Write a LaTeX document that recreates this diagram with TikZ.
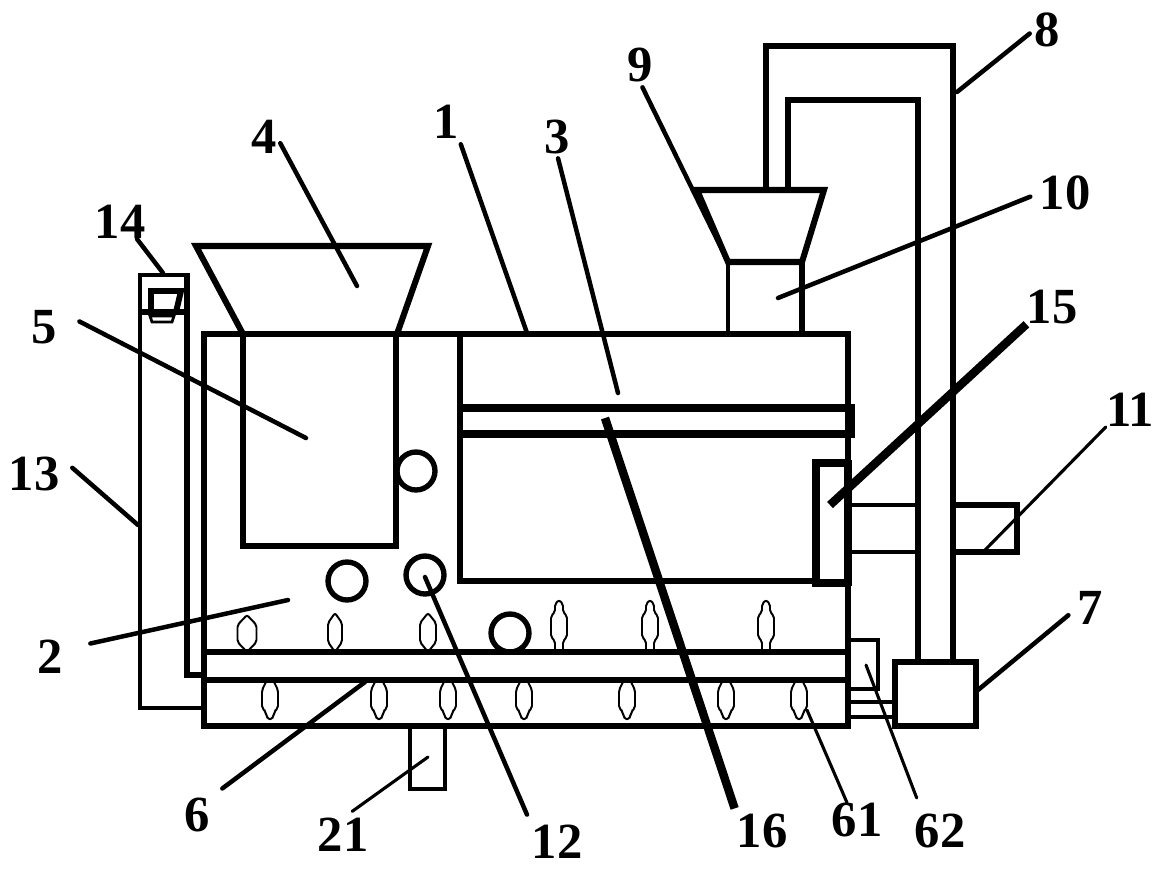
\documentclass[tikz,border=0pt]{standalone}
\usepackage{fontspec}
\setmainfont{Liberation Serif}
\tikzset{
  wall/.style={line width=4.3pt},
  thinwall/.style={line width=3.3pt},
  leader/.style={line width=3.2pt, line cap=round},
  heavyleader/.style={line width=6pt},
  fineleader/.style={line width=2.2pt, line cap=round},
  nozzle/.style={line width=1.4pt, rounded corners=1.5pt},
  roller/.style={circle, draw, line width=3.8pt, minimum size=27pt, inner sep=0pt},
  partno/.style={font=\bfseries\fontsize{36}{36}\selectfont, inner sep=0pt}
}
\begin{document}
\begin{tikzpicture}[x=0.025cm, y=-0.025cm]
  \useasboundingbox (0,0) rectangle (1162,870);
  % housing
  \draw[wall] (204,334) rectangle (848,726);
  \draw[wall] (204,652) -- (848,652);
  \draw[wall] (204,680) -- (848,680);
  \draw[line width=6pt] (848,460) -- (848,586);
  % feed hopper and bin
  \draw[wall] (243,334) -- (196,246) -- (428,246) -- (397,334);
  \draw[wall] (243,334) -- (243,546) -- (396,546) -- (396,334);
  % inner chamber
  \draw[wall] (460,334) -- (460,581) -- (816,581);
  \draw[line width=6.2pt] (460,408) -- (851,408) -- (851,434) -- (460,434);
  \draw[line width=6pt] (848,463) -- (816,463) -- (816,583) -- (848,583);
  % return tube
  \draw[thinwall] (204,708) -- (140,708) -- (140,275) -- (187,275);
  \draw[line width=4.8pt] (187,273) -- (187,675) -- (204,675);
  \draw[line width=4.8pt] (140,312) -- (187,312);
  % valve on the tube
  \draw[line width=4.2pt] (151,312) -- (151,291) -- (181,291) -- (176,312);
  \draw[line width=2pt] (150,316) -- (174,316) -- (172,322) -- (152,322) -- cycle;
  % upper inlet
  \draw[wall] (697,190) -- (824,190) -- (802,262) -- (728,262) -- cycle;
  \draw[thinwall] (728,262) -- (728,334);
  \draw[wall] (802,262) -- (802,334);
  \draw[wall] (766,190) -- (766,46) -- (953,46) -- (953,662);
  \draw[wall] (788,190) -- (788,100) -- (918,100) -- (918,662);
  % side outlet
  \draw[thinwall] (848,505) -- (918,505);
  \draw[thinwall] (848,552) -- (918,552);
  \draw[wall] (953,505) -- (1017,505) -- (1017,552) -- (953,552);
  % drive box and its parts
  \draw[wall] (895,662) rectangle (976,726);
  \draw[thinwall] (848,640) -- (878,640) -- (878,689) -- (848,689);
  \draw[thinwall] (848,702) -- (895,702);
  \draw[thinwall] (848,717) -- (895,717);
  % bottom outlet
  \draw[thinwall] (410,726) -- (410,789) -- (445,789) -- (445,726);
  % rollers
  \node[roller] (rollA) at (416,471) {};
  \node[roller] (rollB) at (347,581) {};
  \node[roller] (rollC) at (425,575) {};
  \node[roller] (rollD) at (510,633) {};
  % nozzles, upper and lower row
  \foreach \x/\t/\w in {247/615/19, 335/613/14, 428/613/16}
    \draw[nozzle] (\x,\t) -- (\x+\w/2,\t+10) -- (\x+\w/2,642) -- (\x,652) -- (\x-\w/2,642) -- (\x-\w/2,\t+10) -- cycle;
  \foreach \x in {559,650,766}
    \draw[nozzle] (\x-4,652) -- (\x-4,641) -- (\x-8,637) -- (\x-8,616) -- (\x-4,612) -- (\x-4,604) -- (\x,600) -- (\x+4,604) -- (\x+4,612) -- (\x+8,616) -- (\x+8,637) -- (\x+4,641) -- (\x+4,652);
  \foreach \x in {270,379,448,524,627,726,799}
    \draw[nozzle] (\x-4,682) -- (\x-8,690) -- (\x-8,708) -- (\x-4,712) -- (\x-4,716) -- (\x,720) -- (\x+4,716) -- (\x+4,712) -- (\x+8,708) -- (\x+8,690) -- (\x+4,682);
  % part numbers
  \node[partno] (lab1) at (446,122) {1};
  \node[partno] (lab2) at (50,657) {2};
  \node[partno] (lab3) at (557,137) {3};
  \node[partno] (lab4) at (264,137) {4};
  \node[partno] (lab5) at (44,327) {5};
  \node[partno] (lab6) at (197,815) {6};
  \node[partno] (lab7) at (1090,608) {7};
  \node[partno] (lab8) at (1047,30) {8};
  \node[partno] (lab9) at (640,65) {9};
  \node[partno] (lab10) at (1065,193) {10};
  \node[partno] (lab11) at (1130,410) {11};
  \node[partno] (lab12) at (557,842) {12};
  \node[partno] (lab13) at (34,474) {13};
  \node[partno] (lab14) at (120,222) {14};
  \node[partno] (lab15) at (1052,307) {15};
  \node[partno] (lab16) at (762,831) {16};
  \node[partno] (lab21) at (343,835) {21};
  \node[partno] (lab61) at (857,820) {61};
  \node[partno] (lab62) at (940,831) {62};
  % leader ends
  \coordinate (tip1) at (527,333);
  \coordinate (tip2) at (288,600);
  \coordinate (tip3) at (618,393);
  \coordinate (tip4) at (357,286);
  \coordinate (tip5) at (306,438);
  \coordinate (tip6) at (365,682);
  \coordinate (tip7) at (978,690);
  \coordinate (tip8) at (957,92);
  \coordinate (tip9) at (728,262);
  \coordinate (tip10) at (778,298);
  \coordinate (tip11) at (985,550);
  \coordinate (tip12) at (425,577);
  \coordinate (tip13) at (138,525);
  \coordinate (tip14) at (163,273);
  \coordinate (tip15) at (830,505);
  \coordinate (tip16) at (605,418);
  \coordinate (tip21) at (428,757);
  \coordinate (tip61) at (807,710);
  \coordinate (tip62) at (866,665);
  % leaders
  \foreach \n/\a/\s in {1/south east/4pt, 2/30/20pt, 3/south/3pt, 4/east/5pt, 5/north east/18pt,
      6/north east/11pt, 7/west/8pt, 8/west/4pt, 9/south/4pt, 10/west/7pt, 12/north west/8pt,
      13/north east/12pt, 14/-45/0pt}
    \draw[leader, shorten <=\s] (lab\n.\a) -- (tip\n);
  \draw[heavyleader] (lab15.south west) -- (tip15);
  \draw[heavyleader, shorten <=4pt] (lab16.north west) -- (tip16);
  \draw[fineleader] (lab11.south west) -- (tip11);
  \draw[fineleader, shorten <=8pt] (lab21.north) -- (tip21);
  \draw[fineleader] (lab61.120) -- (tip61);
  \draw[fineleader, shorten <=12pt] (lab62.135) -- (tip62);
\end{tikzpicture}
\end{document}
